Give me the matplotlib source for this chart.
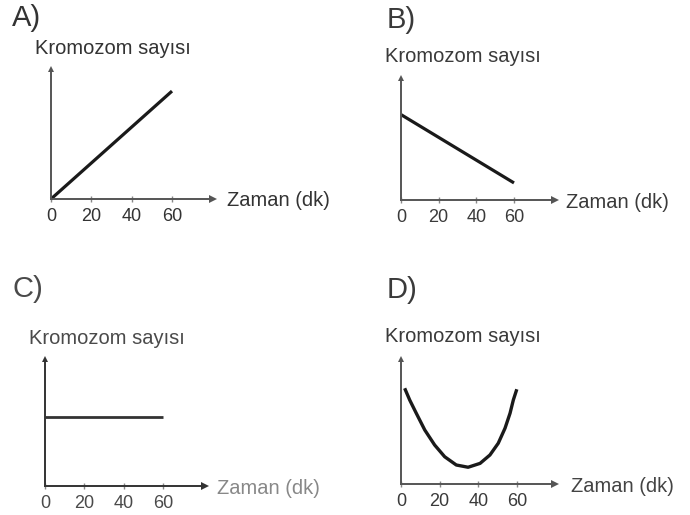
import matplotlib
matplotlib.use("Agg")
import matplotlib.pyplot as plt

plt.rcParams["font.family"] = ["Liberation Sans", "DejaVu Sans"]

W, H = 690, 515

# data (x = Zaman (dk), y = Kromozom sayisi, arbitrary units 0-100)
time_ticks = [0, 20, 40, 60]
a_x = [0, 60]
a_y = [0, 83]
b_x = [0, 60]
b_y = [70, 14]
c_x = [0, 60]
c_y = [54, 54]
d_x = [1.9, 4.5, 7.9, 12.3, 17.4, 22.6, 28.6, 34.7, 40.9, 46.0, 50.3, 53.8, 56.4, 58.1, 59.9]
d_y = [76.6, 67.2, 56.6, 43.2, 31.2, 21.8, 15.2, 13.4, 16.5, 23.2, 32.6, 44.6, 56.6, 67.2, 75.8]

ylabel = "Kromozom sayısı"
xlabel = "Zaman (dk)"


def fx(x):
    return x / W


def fy(y):
    return 1 - y / H


fig = plt.figure(figsize=(W / 100, H / 100), dpi=100)


def panel(letter, xs, ys, origin, x60, xend, ytop, letter_pos, ylab_pos, xlab_pos,
          txt_color, line_color, axis_color, lab_color, lw=2.3):
    ox, oy = origin
    ax = fig.add_axes([fx(ox), fy(oy), (xend - ox) / W, (oy - ytop) / H])
    ax.set_xlim(0, 60 * (xend - ox) / (x60 - ox))
    ax.set_ylim(0, 100)
    ax.plot(xs, ys, color=line_color, lw=lw, solid_capstyle="butt",
            solid_joinstyle="round", clip_on=False)
    for s in ["top", "right"]:
        ax.spines[s].set_visible(False)
    for s in ["left", "bottom"]:
        ax.spines[s].set_color(axis_color)
        ax.spines[s].set_linewidth(1.4)
    ax.patch.set_alpha(0)
    ax.plot(1, 0, ">", transform=ax.transAxes, clip_on=False, ms=6, color=axis_color, mew=0)
    ax.plot(0, 1, "^", transform=ax.transAxes, clip_on=False, ms=4.5, color=axis_color, mew=0)
    ax.set_xticks(time_ticks)
    ax.set_xticklabels([str(t) for t in time_ticks])
    ax.set_yticks([])
    ax.tick_params(axis="x", direction="inout", length=5, width=1, color="#888",
                   labelsize=13, labelcolor=txt_color, pad=4)
    fig.text(fx(letter_pos[0]), fy(letter_pos[1]), letter, fontsize=21,
             color=txt_color, va="center", ha="left")
    fig.text(fx(ylab_pos[0]), fy(ylab_pos[1]), ylabel, fontsize=14.5,
             color=txt_color, va="center", ha="left")
    fig.text(fx(xlab_pos[0]), fy(xlab_pos[1]), xlabel, fontsize=14.5,
             color=lab_color, va="center", ha="left")
    return ax


panel("A)", a_x, a_y, (51, 199), 172, 213, 69, (12, 18), (35, 48), (227, 201),
      "#333333", "#1a1a1a", "#555555", "#333333")
panel("B)", b_x, b_y, (401, 200), 514, 555, 78, (387, 20), (385, 56), (566, 202),
      "#3a3a3a", "#1a1a1a", "#555555", "#3a3a3a")
panel("C)", c_x, c_y, (45, 486), 163, 205, 359, (12, 289), (29, 338), (217, 489),
      "#4a4a4a", "#333333", "#333333", "#888888", lw=2.0)
panel("D)", d_x, d_y, (401, 484), 517, 555, 359, (387, 290), (385, 336), (571, 487),
      "#3a3a3a", "#1a1a1a", "#555555", "#444444", lw=2.4)

fig.savefig("out.png", dpi=100)
